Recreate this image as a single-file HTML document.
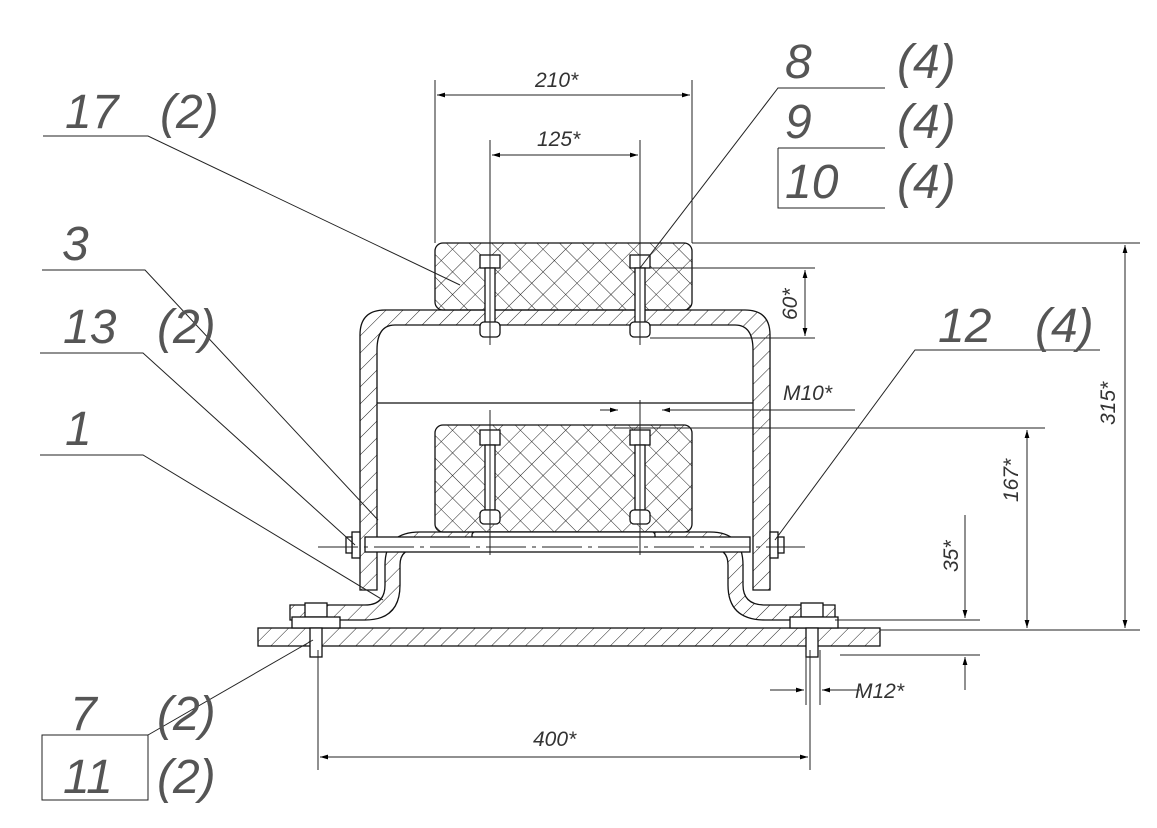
<!DOCTYPE html>
<html><head><style>
html,body{margin:0;padding:0;background:#fff;width:1157px;height:828px;overflow:hidden}
svg{display:block}
.t{font-family:"Liberation Sans",sans-serif;font-style:italic;fill:#555}
.L{font-size:48px}
.d{font-size:21px;fill:#333}
</style></head><body>
<svg width="1157" height="828" viewBox="0 0 1157 828" xmlns="http://www.w3.org/2000/svg">
<defs>
<pattern id="h" width="12" height="12" patternUnits="userSpaceOnUse" patternTransform="rotate(45)">
<line x1="0" y1="0" x2="0" y2="12" stroke="#222" stroke-width="1"/></pattern>
<pattern id="x" width="16" height="16" patternUnits="userSpaceOnUse" patternTransform="rotate(45)">
<line x1="0" y1="0" x2="0" y2="16" stroke="#222" stroke-width="1"/>
<line x1="0" y1="0" x2="16" y2="0" stroke="#222" stroke-width="1"/></pattern>
<marker id="a" viewBox="0 0 10 10" refX="10" refY="5" markerWidth="10" markerHeight="8" orient="auto-start-reverse" markerUnits="userSpaceOnUse"><path d="M0,2 L10,5 L0,8z" fill="#000"/></marker>
</defs>
<g stroke="#111" stroke-width="1.3" fill="none">
<rect x="258" y="628" width="622" height="18" fill="url(#h)"/>
<path d="M290,605 H365 Q385,605 385,585 V565 Q385,532 420,532 H710 Q743,532 743,565 V585 Q743,605 765,605 H835 V620 H765 Q728,620 728,585 V565 Q728,548 710,548 H420 Q400,548 400,565 V585 Q400,620 365,620 H290Z" fill="url(#h)"/>
<path d="M360,590 V335 Q360,310 385,310 H745 Q770,310 770,335 V590 H753 V350 Q753,325 735,325 H395 Q377,325 377,350 V590Z" fill="url(#h)"/>
<line x1="377" y1="403" x2="753" y2="403"/>
<rect x="435" y="243" width="257" height="67" rx="8" fill="url(#x)"/>
<rect x="435" y="425" width="257" height="107" rx="8" fill="url(#x)"/>
<rect x="472" y="532" width="183" height="18" rx="3" fill="#fff"/>
<rect x="365" y="537" width="385" height="15" fill="#fff"/>
<rect x="352" y="532" width="8" height="26" fill="#fff"/><rect x="346" y="537" width="6" height="16" fill="#fff"/>
<rect x="770" y="532" width="8" height="26" fill="#fff"/><rect x="778" y="537" width="6" height="16" fill="#fff"/>
<g fill="#fff">
<rect x="480" y="255" width="20" height="13"/><rect x="485" y="268" width="10" height="57"/><rect x="480" y="322" width="20" height="15" rx="4"/>
<rect x="630" y="255" width="20" height="13"/><rect x="635" y="268" width="10" height="57"/><rect x="630" y="322" width="20" height="15" rx="4"/>
<rect x="480" y="430" width="20" height="15"/><rect x="485" y="445" width="10" height="65"/><rect x="480" y="510" width="20" height="14" rx="4"/>
<rect x="630" y="430" width="20" height="15"/><rect x="635" y="445" width="10" height="65"/><rect x="630" y="510" width="20" height="14" rx="4"/>
<rect x="305" y="603" width="22" height="14"/><rect x="292" y="617" width="48" height="11"/><rect x="310" y="628" width="12" height="29"/>
<rect x="801" y="603" width="22" height="14"/><rect x="790" y="617" width="48" height="11"/><rect x="806" y="628" width="12" height="29"/>
</g>
</g>
<g stroke="#222" stroke-width="1" fill="none">
<line x1="318" y1="547" x2="805" y2="547" stroke-dasharray="40,6,4,6"/>
<line x1="490" y1="140" x2="490" y2="345"/><line x1="640" y1="140" x2="640" y2="345"/>
<line x1="490" y1="410" x2="490" y2="555"/><line x1="640" y1="400" x2="640" y2="555"/>
<line x1="435" y1="80" x2="435" y2="243"/><line x1="692" y1="80" x2="692" y2="243"/>
<line x1="437" y1="95" x2="690" y2="95" marker-start="url(#a)" marker-end="url(#a)"/>
<line x1="492" y1="155" x2="638" y2="155" marker-start="url(#a)" marker-end="url(#a)"/>
<line x1="692" y1="243" x2="1140" y2="243"/>
<line x1="650" y1="268" x2="815" y2="268"/><line x1="650" y1="338" x2="815" y2="338"/>
<line x1="805" y1="270" x2="805" y2="336" marker-start="url(#a)" marker-end="url(#a)"/>
<line x1="614" y1="428" x2="1045" y2="428"/>
<line x1="600" y1="410" x2="618" y2="410" marker-end="url(#a)"/>
<line x1="680" y1="410" x2="662" y2="410" marker-end="url(#a)"/>
<line x1="662" y1="410" x2="855" y2="410"/>
<line x1="1125" y1="245" x2="1125" y2="628" marker-start="url(#a)" marker-end="url(#a)"/>
<line x1="1027" y1="430" x2="1027" y2="628" marker-start="url(#a)" marker-end="url(#a)"/>
<line x1="880" y1="630" x2="1140" y2="630"/>
<line x1="835" y1="620" x2="980" y2="620"/><line x1="840" y1="655" x2="980" y2="655"/>
<line x1="965" y1="515" x2="965" y2="618" marker-end="url(#a)"/>
<line x1="965" y1="690" x2="965" y2="657" marker-end="url(#a)"/>
<line x1="318" y1="650" x2="318" y2="770"/><line x1="810" y1="650" x2="810" y2="770"/>
<line x1="806" y1="650" x2="806" y2="705"/><line x1="820" y1="650" x2="820" y2="705"/>
<line x1="320" y1="757" x2="808" y2="757" marker-start="url(#a)" marker-end="url(#a)"/>
<line x1="770" y1="690" x2="804" y2="690" marker-end="url(#a)"/>
<line x1="860" y1="690" x2="822" y2="690" marker-end="url(#a)"/>
<polyline points="43,136 148,136 460,285"/>
<polyline points="42,270 145,270 378,520"/>
<polyline points="40,353 143,353 355,545"/>
<polyline points="40,455 143,455 383,600"/>
<polyline points="148,735 313,640"/>
<rect x="42" y="735" width="106" height="65"/>
<polyline points="885,88 778,88 640,268"/>
<line x1="778" y1="148" x2="885" y2="148"/>
<polyline points="885,208 778,208 778,148"/>
<polyline points="1100,350 915,350 775,540"/>
</g>
<text class="t L" x="65" y="128">17</text><text class="t L" x="160" y="128">(2)</text>
<text class="t L" x="62" y="260">3</text>
<text class="t L" x="63" y="343">13</text><text class="t L" x="157" y="343">(2)</text>
<text class="t L" x="65" y="445">1</text>
<text class="t L" x="70" y="730">7</text><text class="t L" x="157" y="730">(2)</text>
<text class="t L" x="63" y="793">11</text><text class="t L" x="157" y="793">(2)</text>
<text class="t L" x="785" y="78">8</text><text class="t L" x="897" y="78">(4)</text>
<text class="t L" x="785" y="138">9</text><text class="t L" x="897" y="138">(4)</text>
<text class="t L" x="785" y="198">10</text><text class="t L" x="897" y="198">(4)</text>
<text class="t L" x="938" y="342">12</text><text class="t L" x="1035" y="342">(4)</text>
<text class="t d" x="535" y="87">210*</text>
<text class="t d" x="537" y="146">125*</text>
<text class="t d" x="783" y="400">M10*</text>
<text class="t d" x="855" y="698">M12*</text>
<text class="t d" x="533" y="746">400*</text>
<text class="t d" transform="translate(797,320) rotate(-90)">60*</text>
<text class="t d" transform="translate(1115,425) rotate(-90)">315*</text>
<text class="t d" transform="translate(1018,502) rotate(-90)">167*</text>
<text class="t d" transform="translate(958,572) rotate(-90)">35*</text>
</svg>
</body></html>
